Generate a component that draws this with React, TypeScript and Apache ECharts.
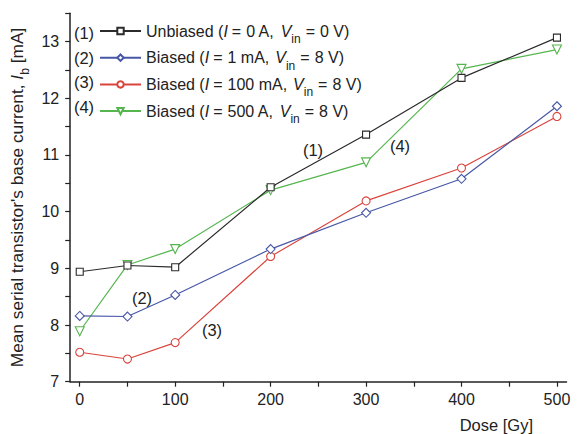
import React, { useEffect, useRef } from "react";
import * as echarts from "echarts";

const doses = [0, 50, 100, 200, 300, 400, 500];
const unbiased = [8.94, 9.05, 9.02, 10.43, 11.36, 12.36, 13.07];
const biased1mA = [8.16, 8.15, 8.53, 9.34, 9.98, 10.58, 11.86];
const biased100mA = [7.52, 7.4, 7.69, 9.21, 10.19, 10.77, 11.68];
const biased500A = [7.89, 9.06, 9.34, 10.38, 10.87, 12.52, 12.86];

const xLabels = [0, 100, 200, 300, 400, 500];
const xTicks = [0, 50, 100, 150, 200, 250, 300, 350, 400, 450, 500];
const yLabels = [7, 8, 9, 10, 11, 12, 13];
const yTicks = [7, 7.5, 8, 8.5, 9, 9.5, 10, 10.5, 11, 11.5, 12, 12.5, 13, 13.5];

const seriesNames = [
  "Unbiased (I = 0 A, Vin = 0 V)",
  "Biased (I = 1 mA, Vin = 8 V)",
  "Biased (I = 100 mA, Vin = 8 V)",
  "Biased (I = 500 A, Vin = 8 V)",
];
const conditions = ["Unbiased", "Biased", "Biased", "Biased"];
const currents = ["0 A", "1 mA", "100 mA", "500 A"];
const voltages = ["0 V", "8 V", "8 V", "8 V"];
const seriesTags = ["(1)", "(2)", "(3)", "(4)"];
const seriesValues = [unbiased, biased1mA, biased100mA, biased500A];
const colors = ["#2b2b2b", "#4757a6", "#d9443c", "#55b54f"];
const symbols = ["rect", "diamond", "circle", "triangle"];
const symbolSizes = [7, 9, 8, 9];
const symbolRotations = [0, 0, 0, 180];

const FONT = "'Liberation Sans', Arial, Helvetica, sans-serif";
const TEXT = "#222";

// legend entry as rich text: upright words, italic symbols, spaced relations
function legendLabel(k: number) {
  return (
    `{w|${conditions[k]} (}{i|I}{e|=}{c|${currents[k]},}` +
    `{i|V}{s|in}{e|=}{w|${voltages[k]})}`
  );
}

const LS = 16;
const legendRich = {
  w: { fontSize: LS, fontFamily: FONT, color: TEXT, lineHeight: 20 },
  i: { fontSize: LS, fontFamily: FONT, color: TEXT, fontStyle: "italic", lineHeight: 20 },
  e: { fontSize: LS, fontFamily: FONT, color: TEXT, lineHeight: 20, padding: [0, 5, 0, 4] },
  c: { fontSize: LS, fontFamily: FONT, color: TEXT, lineHeight: 20, padding: [0, 6, 0, 0] },
  s: { fontSize: 12, fontFamily: FONT, color: TEXT, lineHeight: 20, verticalAlign: "bottom", padding: [0, 1, -4, 0] },
};

const nameRich = {
  n: { fontSize: 17.3, fontFamily: FONT, color: TEXT, lineHeight: 20 },
  i: { fontSize: 17.3, fontFamily: FONT, color: TEXT, fontStyle: "italic", lineHeight: 20 },
  s: { fontSize: 12.2, fontFamily: FONT, color: TEXT, lineHeight: 20, verticalAlign: "bottom", padding: [0, 0, -4, 0] },
};

export default function App() {
  const ref = useRef<HTMLDivElement>(null);

  useEffect(() => {
    if (!ref.current) return;
    const chart = echarts.init(ref.current, undefined, { renderer: "svg" });

    const tag = (text: string, x: number, y: number) => ({
      type: "text",
      x,
      y,
      style: { text, fontSize: 16.5, fontFamily: FONT, fill: TEXT, align: "center", verticalAlign: "middle" },
    });

    const option: any = {
      animation: false,
      backgroundColor: "#fff",
      grid: { left: 70, right: 14.5, top: 13.3, bottom: 52.3, containLabel: false },
      xAxis: {
        type: "value",
        min: -10,
        max: 510,
        axisLine: { show: true, onZero: false, lineStyle: { color: "#222", width: 1.5 } },
        axisTick: { show: true, customValues: xTicks, length: 5, lineStyle: { color: "#222", width: 1.2 } },
        axisLabel: { customValues: xLabels, color: TEXT, fontSize: 16, fontFamily: FONT, margin: 10 },
        splitLine: { show: false },
      },
      yAxis: {
        type: "value",
        min: 7,
        max: 13.5,
        name: "{n|Mean serial transistor's base current, }{i|I}{s|b}{n| [mA]}",
        nameLocation: "middle",
        nameGap: 35,
        nameTextStyle: { fontSize: 17.3, fontFamily: FONT, color: TEXT, rich: nameRich },
        axisLine: { show: true, onZero: false, lineStyle: { color: "#222", width: 1.5 } },
        axisTick: { show: true, customValues: yTicks, length: 5, lineStyle: { color: "#222", width: 1.2 } },
        axisLabel: { customValues: yLabels, color: TEXT, fontSize: 16, fontFamily: FONT, margin: 11 },
        splitLine: { show: false },
      },
      legend: {
        orient: "vertical",
        left: 99,
        top: 23,
        padding: 0,
        itemWidth: 41,
        itemHeight: 8,
        itemGap: 4.7,
        data: seriesNames,
        formatter: (name: string) => legendLabel(seriesNames.indexOf(name)),
        textStyle: { rich: legendRich, fontSize: LS, fontFamily: FONT, color: TEXT },
      },
      series: seriesValues.map((vals, k) => ({
        name: seriesNames[k],
        type: "line",
        data: doses.map((d, j) => [d, vals[j]]),
        symbol: symbols[k],
        symbolSize: symbolSizes[k],
        symbolRotate: symbolRotations[k],
        showAllSymbol: true,
        z: 4 - k,
        lineStyle: { color: colors[k], width: 1.2 },
        itemStyle: { color: "#fff", borderColor: colors[k], borderWidth: 1.1 },
        emphasis: { disabled: true },
      })),
      graphic: [
        ...seriesTags.map((t, k) => tag(t, 84, 33 + k * 24.7)),
        tag("(1)", 313, 150),
        tag("(4)", 400, 146),
        tag("(2)", 142, 298),
        tag("(3)", 212, 330),
        {
          type: "text",
          x: 533,
          y: 425,
          style: { text: "Dose [Gy]", fontSize: 16.5, fontFamily: FONT, fill: TEXT, align: "right", verticalAlign: "middle" },
        },
      ],
    };

    chart.setOption(option);
    return () => chart.dispose();
  }, []);

  return <div ref={ref} style={{ width: 581, height: 434, position: "absolute", left: 0, top: 0 }} />;
}
